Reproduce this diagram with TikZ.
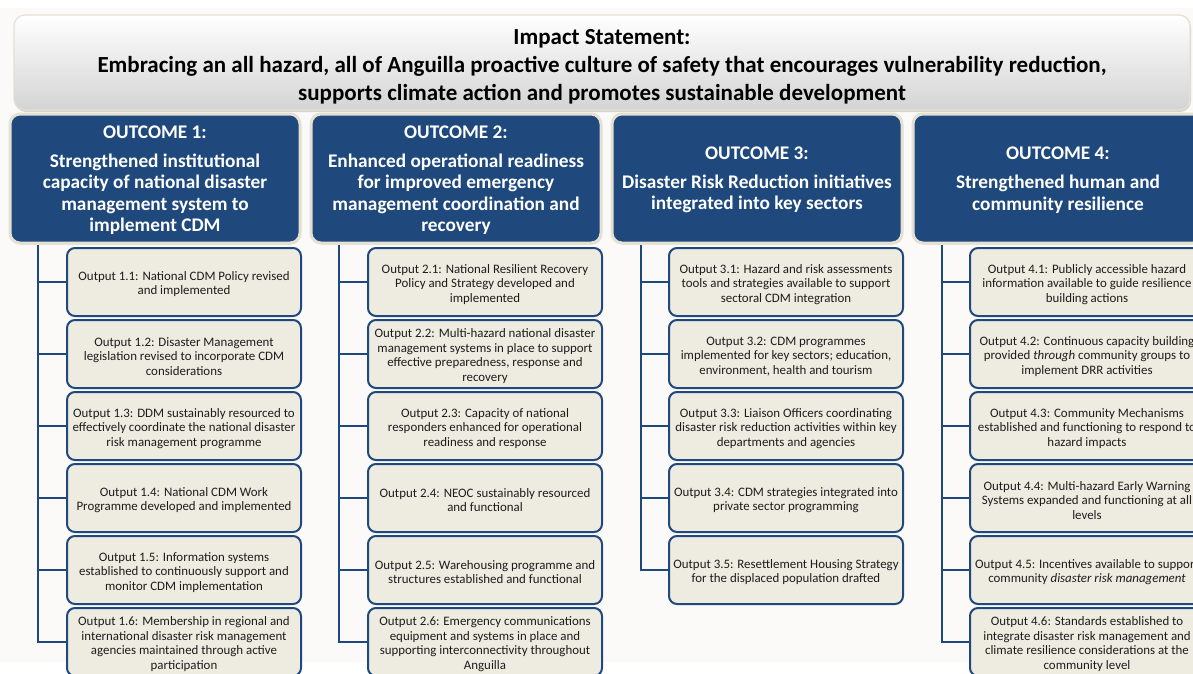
\documentclass[tikz,border=0pt]{standalone}
\usepackage{fontspec}
\setmainfont{Carlito}
\usetikzlibrary{shadows}
\definecolor{navy}{HTML}{1F497D}
\definecolor{paper}{HTML}{EEECE1}
\definecolor{rim}{HTML}{E4E0D2}
\definecolor{backdrop}{HTML}{FBFAF9}
\definecolor{ink}{HTML}{1C1C1C}
% first-line struts that settle each text block slightly lower in its box
\newcommand\headpad{\rule{0pt}{23pt}}
\newcommand\outcomepad{\rule{0pt}{15.5pt}}
\newcommand\outpad{\rule{0pt}{13.5pt}}
\tikzset{
  headbox/.style={rounded corners=11pt, draw=rim, line width=1.2pt,
    top color=white, bottom color=black!17, minimum width=1176pt, minimum height=95pt,
    align=center, inner sep=0pt, font=\bfseries\fontsize{23}{28}\selectfont,
    drop shadow={opacity=0.3, shadow xshift=1pt, shadow yshift=-2pt}},
  outcomebox/.style={rounded corners=10pt, draw=rim, line width=3pt, fill=navy,
    minimum width=290pt, minimum height=129pt, text=white, align=center, inner sep=0pt,
    font=\bfseries\fontsize{19.3}{21.3}\selectfont,
    drop shadow={opacity=0.25, shadow xshift=1pt, shadow yshift=-1.5pt}},
  outbox/.style={rounded corners=8pt, draw=navy, line width=2pt, fill=paper,
    minimum width=234pt, minimum height=68pt, text=ink, align=center, inner sep=0pt,
    font=\fontsize{12.9}{14.5}\selectfont},
  conn/.style={draw=navy, line width=2.6pt},
}
\begin{document}
\begin{tikzpicture}[x=1pt,y=-1pt]
\useasboundingbox (0,0) rectangle (1193,673);
\clip (0,0) rectangle (1193,673);
\fill[backdrop] (0,8) rectangle (1193,662);

% impact statement banner
\node[headbox] (head) at (602,62.5) {\headpad Impact Statement:\\
  Embracing an all hazard, all of Anguilla proactive culture of safety that encourages vulnerability reduction,\\
  supports climate action and promotes sustainable development};

% outcome headers
\node[outcomebox] (c1) at (155,178.5) {\outcomepad OUTCOME 1:\\[8pt]Strengthened institutional\\capacity of national disaster\\management system to\\implement CDM};
\node[outcomebox] (c2) at (456,178.5) {\outcomepad OUTCOME 2:\\[8pt]Enhanced operational readiness\\for improved emergency\\management coordination and\\recovery};
\node[outcomebox] (c3) at (757,178.5) {\outcomepad OUTCOME 3:\\[8pt]Disaster Risk Reduction initiatives\\integrated into key sectors};
\node[outcomebox] (c4) at (1058,178.5) {\outcomepad OUTCOME 4:\\[8pt]Strengthened human and\\community resilience};

% outputs of outcome 1
\node[outbox] (o11) at (184,282) {\outpad Output 1.1: National CDM Policy revised\\and implemented};
\node[outbox] (o12) at (184,354) {\outpad Output 1.2: Disaster Management\\legislation revised to incorporate CDM\\considerations};
\node[outbox] (o13) at (184,426) {\outpad Output 1.3: DDM sustainably resourced to\\effectively coordinate the national disaster\\risk management programme};
\node[outbox] (o14) at (184,498) {\outpad Output 1.4: National CDM Work\\Programme developed and implemented};
\node[outbox] (o15) at (184,570) {\outpad Output 1.5: Information systems\\established to continuously support and\\monitor CDM implementation};
\node[outbox] (o16) at (184,642) {\outpad Output 1.6: Membership in regional and\\international disaster risk management\\agencies maintained through active\\participation};

% outputs of outcome 2
\node[outbox] (o21) at (485,282) {\outpad Output 2.1: National Resilient Recovery\\Policy and Strategy developed and\\implemented};
\node[outbox] (o22) at (485,354) {\outpad Output 2.2: Multi-hazard national disaster\\management systems in place to support\\effective preparedness, response and\\recovery};
\node[outbox] (o23) at (485,426) {\outpad Output 2.3: Capacity of national\\responders enhanced for operational\\readiness and response};
\node[outbox] (o24) at (485,498) {\outpad Output 2.4: NEOC sustainably resourced\\and functional};
\node[outbox] (o25) at (485,570) {\outpad Output 2.5: Warehousing programme and\\structures established and functional};
\node[outbox] (o26) at (485,642) {\outpad Output 2.6: Emergency communications\\equipment and systems in place and\\supporting interconnectivity throughout\\Anguilla};

% outputs of outcome 3
\node[outbox] (o31) at (786,282) {\outpad Output 3.1: Hazard and risk assessments\\tools and strategies available to support\\sectoral CDM integration};
\node[outbox] (o32) at (786,354) {\outpad Output 3.2: CDM programmes\\implemented for key sectors; education,\\environment, health and tourism};
\node[outbox] (o33) at (786,426) {\outpad Output 3.3: Liaison Officers coordinating\\disaster risk reduction activities within key\\departments and agencies};
\node[outbox] (o34) at (786,498) {\outpad Output 3.4: CDM strategies integrated into\\private sector programming};
\node[outbox] (o35) at (786,570) {\outpad Output 3.5: Resettlement Housing Strategy\\for the displaced population drafted};

% outputs of outcome 4
\node[outbox] (o41) at (1087,282) {\outpad Output 4.1: Publicly accessible hazard\\information available to guide resilience\\building actions};
\node[outbox] (o42) at (1087,354) {\outpad Output 4.2: Continuous capacity building\\provided \textit{through} community groups to\\implement DRR activities};
\node[outbox] (o43) at (1087,426) {\outpad Output 4.3: Community Mechanisms\\established and functioning to respond to\\hazard impacts};
\node[outbox] (o44) at (1087,498) {\outpad Output 4.4: Multi-hazard Early Warning\\Systems expanded and functioning at all\\levels};
\node[outbox] (o45) at (1087,570) {\outpad Output 4.5: Incentives available to support\\community \textit{disaster risk management}};
\node[outbox] (o46) at (1087,642) {\outpad Output 4.6: Standards established to\\integrate disaster risk management and\\climate resilience considerations at the\\community level};

% trunk lines from each outcome down to its outputs
\coordinate (t1) at (38,244.5);
\coordinate (t2) at (339,244.5);
\coordinate (t3) at (641,244.5);
\coordinate (t4) at (942,244.5);
\draw[conn] (t1) |- (o16.west);
\draw[conn] (t2) |- (o26.west);
\draw[conn] (t3) |- (o35.west);
\draw[conn] (t4) |- (o46.west);
\foreach \k in {1,...,5} {
  \draw[conn] (o1\k.west) -- (o1\k.west -| t1);
  \draw[conn] (o2\k.west) -- (o2\k.west -| t2);
  \draw[conn] (o3\k.west) -- (o3\k.west -| t3);
  \draw[conn] (o4\k.west) -- (o4\k.west -| t4);
}
\end{tikzpicture}
\end{document}
